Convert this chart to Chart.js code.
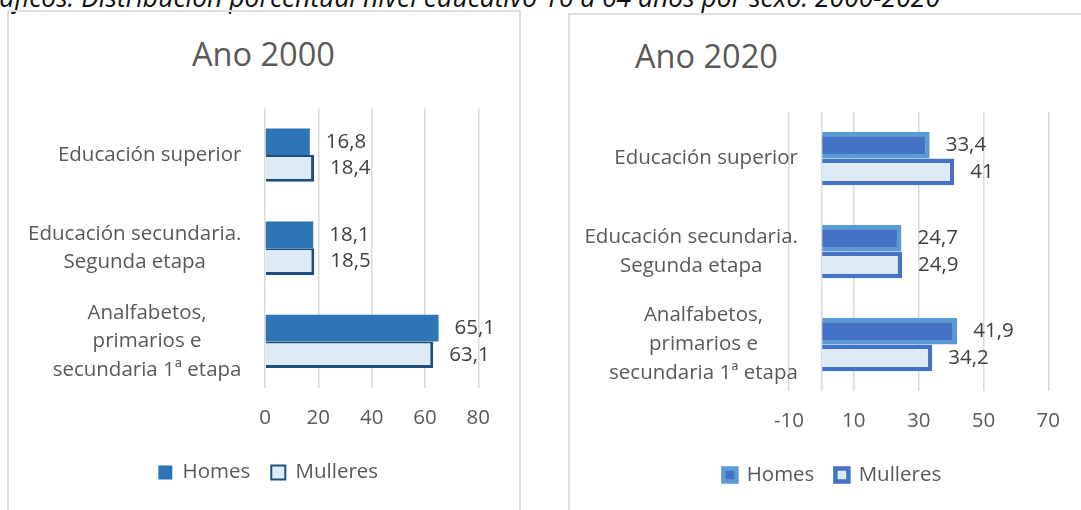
<!DOCTYPE html>
<html lang="gl">
<head>
<meta charset="utf-8">
<title>Nivel educativo 16 a 64 anos por sexo</title>
<script src="https://cdn.jsdelivr.net/npm/chart.js@4/dist/chart.umd.min.js"></script>
<style>
  html, body { margin: 0; padding: 0; background: #fff; }
  body { width: 1081px; height: 510px; position: relative; overflow: hidden; font-family: "Open Sans", sans-serif; }
  .heading { position: absolute; right: 141px; top: -16.5px; font-size: 26.5px; line-height: 26.5px; font-style: italic; color: #111; white-space: nowrap; }
  .panel { position: absolute; border: 2px solid #e0e0e0; }
  .title { position: absolute; font-size: 32.5px; line-height: 32.5px; color: #595959; white-space: nowrap; }
  canvas { position: absolute; }
</style>
</head>
<body>
<div class="heading">Gráficos: Distribución porcentual nivel educativo 16 a 64 anos por sexo. 2000-2020</div>
<div class="panel" style="left:7px; top:10px; width:510px; height:600px;"></div>
<div class="panel" style="left:568px; top:13px; width:600px; height:600px;"></div>
<div class="title" style="left:192px; top:37.7px;">Ano 2000</div>
<div class="title" style="left:635px; top:40.2px;">Ano 2020</div>
<canvas id="c2000" width="495" height="440" style="left:15px; top:60px;"></canvas>
<canvas id="c2020" width="506" height="440" style="left:575px; top:60px;"></canvas>
<script>
const categories = [
  ["Educación superior"],
  ["Educación secundaria.", "Segunda etapa"],
  ["Analfabetos,", "primarios e", "secundaria 1ª etapa"]
];
const homes2000 = [16.8, 18.1, 65.1];
const mulleres2000 = [18.4, 18.5, 63.1];
const homes2020 = [33.4, 24.7, 41.9];
const mulleres2020 = [41, 24.9, 34.2];
const ticks2000 = [0, 20, 40, 60, 80];
const ticks2020 = [-10, 10, 30, 50, 70];

Chart.defaults.font.family = "'Open Sans', sans-serif";
Chart.defaults.font.size = 20.5;
Chart.defaults.color = '#595959';

// category names (Excel style: block right-aligned, lines centred) and value labels
const barText = {
  id: 'barText',
  afterDatasetsDraw(chart, args, opts) {
    const {ctx, scales: {x, y}} = chart;
    ctx.save();
    ctx.font = "20.5px 'Open Sans'";
    ctx.textBaseline = 'middle';
    ctx.fillStyle = '#595959';
    ctx.textAlign = 'center';
    const right = x.getPixelForValue(0) - 23.5;
    chart.data.labels.forEach((lines, i) => {
      const cy = y.getPixelForValue(i);
      const w = Math.max(...lines.map(t => ctx.measureText(t).width));
      lines.forEach((t, k) => {
        ctx.fillText(t, right - w / 2, cy + (k - (lines.length - 1) / 2) * opts.lineGap);
      });
    });
    ctx.fillStyle = '#404040';
    ctx.textAlign = 'left';
    chart.data.datasets.forEach((ds, d) => {
      chart.getDatasetMeta(d).data.forEach((bar, i) => {
        const v = ds.data[i];
        ctx.fillText(String(v).replace('.', ','), x.getPixelForValue(v) + 16, bar.y);
      });
    });
    ctx.restore();
  }
};

function makeChart(id, homes, mulleres, ticks, look) {
  return new Chart(document.getElementById(id), {
    type: 'bar',
    data: {
      labels: categories,
      datasets: [
        Object.assign({label: 'Homes', data: homes}, look.homes),
        Object.assign({label: 'Mulleres', data: mulleres}, look.mulleres)
      ]
    },
    options: {
      indexAxis: 'y',
      responsive: false,
      animation: false,
      layout: {padding: look.padding},
      datasets: {bar: {categoryPercentage: 0.573, barPercentage: 1}},
      scales: {
        x: {
          min: ticks[0],
          max: ticks[ticks.length - 1],
          afterBuildTicks: s => {
            s.ticks = ticks.concat(look.extraGrid).sort((a, b) => a - b).map(v => ({value: v}));
          },
          ticks: {
            callback: v => ticks.includes(v) ? v : '',
            padding: look.tickPad,
            autoSkip: false,
            maxRotation: 0
          },
          grid: {color: '#d9d9d9', lineWidth: 1.5, drawTicks: false},
          border: {display: false},
          afterFit: s => { s.height = look.axisHeight; }
        },
        y: {
          ticks: {display: false},
          grid: {display: false},
          border: {display: false},
          afterFit: s => { s.width = look.catWidth; }
        }
      },
      plugins: {
        legend: {
          position: 'bottom',
          labels: {boxWidth: look.box, boxHeight: look.box, padding: 21}
        },
        tooltip: {enabled: false},
        barText: {lineGap: look.lineGap}
      }
    },
    plugins: [barText]
  });
}

makeChart('c2000', homes2000, mulleres2000, ticks2000, {
  homes: {backgroundColor: '#2E75B6', borderWidth: 0},
  mulleres: {backgroundColor: '#DEEBF7', borderColor: '#1F4E79',
             borderWidth: {top: 2, right: 3, bottom: 3, left: 0}},
  padding: {left: 43.1, right: 31.7, top: 48.5, bottom: 7.25},
  catWidth: 206.9,
  axisHeight: 53.25,
  tickPad: 17.6,
  extraGrid: [],
  box: 14,
  lineGap: 28.5
});

makeChart('c2020', homes2020, mulleres2020, ticks2020, {
  homes: {backgroundColor: '#4472C4', borderColor: '#5B9BD5', borderWidth: 4.5},
  mulleres: {backgroundColor: '#DEEBF7', borderColor: '#4472C4', borderWidth: 4.5},
  padding: {left: 41.3, right: 32.7, top: 52, bottom: 4.75},
  catWidth: 172.7,
  axisHeight: 52.75,
  tickPad: 18.3,
  extraGrid: [0],
  box: 13,
  lineGap: 29
});
</script>
</body>
</html>
